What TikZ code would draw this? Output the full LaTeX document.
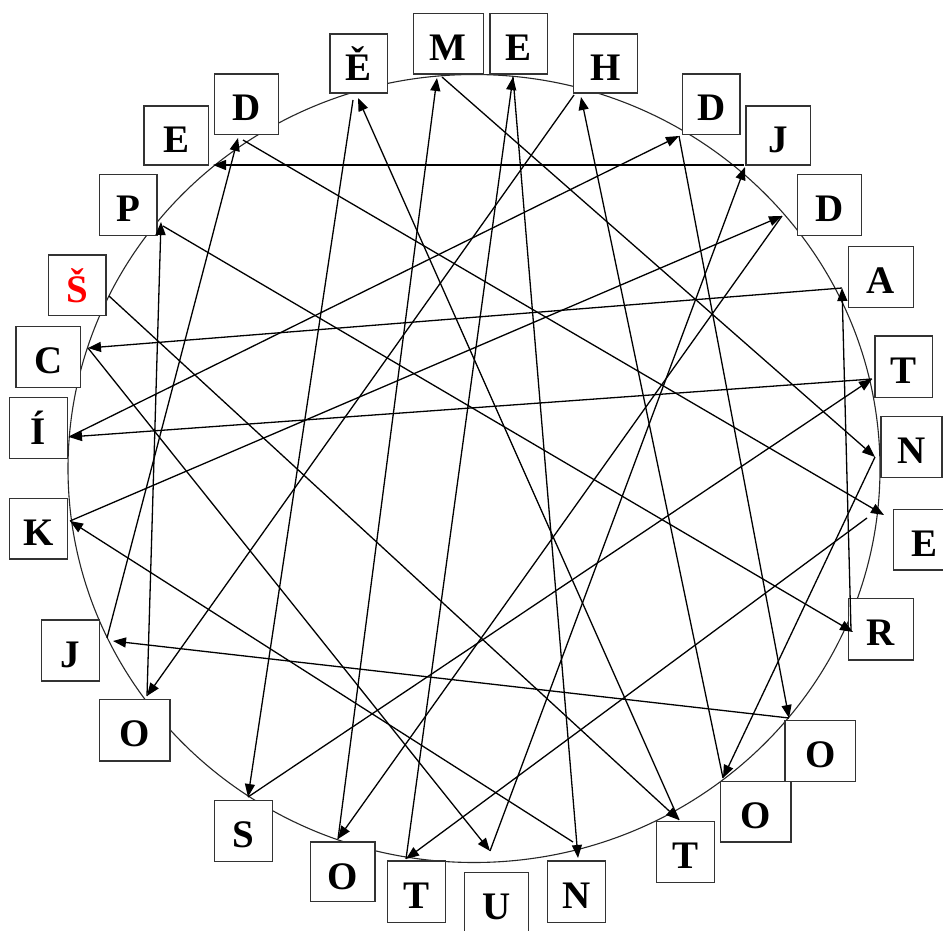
\documentclass[tikz,border=0pt]{standalone}
\usepackage{fontspec}
\setmainfont{Liberation Serif}
\usetikzlibrary{arrows.meta}
\begin{document}
\begin{tikzpicture}[x=1pt,y=-1pt,
  lbox/.style={draw=black!80, line width=1.3pt, fill=white, inner sep=0pt, outer sep=0pt,
    anchor=north west, align=center, text height=47pt,
    font=\fontsize{39}{40}\selectfont\bfseries},
  arr/.style={draw=black, line width=1.3pt, -{Triangle[length=13pt,width=10pt]}},
  ring/.style={draw=black!85, line width=1.1pt}]
\useasboundingbox (0,0) rectangle (943,931);
\fill[white] (0,0) rectangle (943,931);
% outer ellipse
\draw[ring] (474,468.5) ellipse [x radius=406pt, y radius=394pt];
% letter boxes (clockwise from top)
\node[lbox, text width=70pt,   text depth=13.7pt] (bM)   at (413.3,13.3)  {M};
\node[lbox, text width=57.7pt, text depth=13.7pt] (bE2)  at (490,13.3)    {E};
\node[lbox, text width=64.4pt, text depth=12pt]   (bH)   at (573.3,34)    {H};
\node[lbox, text width=57.7pt, text depth=13.7pt] (bD4)  at (682.3,74)    {D};
\node[lbox, text width=64.3pt, text depth=12pt]   (bJ5)  at (746,106)     {J};
\node[lbox, text width=64.4pt, text depth=13.6pt] (bD6)  at (797.3,174.7) {D};
\node[lbox, text width=65pt,   text depth=13.6pt] (bA)   at (848.3,246.7) {A};
\node[lbox, text width=57.3pt, text depth=14.3pt] (bT8)  at (875,336)     {T};
\node[lbox, text width=61pt,   text depth=13.6pt] (bN9)  at (881,416.7)   {N};
\node[lbox, text width=61.7pt, text depth=13.7pt] (bE10) at (893.3,509.3) {E};
\node[lbox, text width=65pt,   text depth=14.7pt] (bR)   at (848.3,598.3) {R};
\node[lbox, text width=70.7pt, text depth=14.4pt] (bO12) at (785,720.3)   {O};
\node[lbox, text width=70.3pt, text depth=13.3pt] (bO13) at (720.7,781.7) {O};
\node[lbox, text width=57.6pt, text depth=14pt]   (bT14) at (656.7,821.7) {T};
\node[lbox, text width=58pt,   text depth=14.7pt] (bN15) at (547.7,861)   {N};
\node[lbox, text width=63.6pt, text depth=14.3pt] (bU)   at (464.7,872.7) {U};
\node[lbox, text width=58.4pt, text depth=14.7pt] (bT17) at (387.3,861)   {T};
\node[lbox, text width=64.3pt, text depth=12.7pt] (bO18) at (310.7,842)   {O};
\node[lbox, text width=58.4pt, text depth=14.4pt] (bS)   at (214.3,800.3) {S};
\node[lbox, text width=70.7pt, text depth=14.3pt] (bO20) at (99.3,699.7)  {O};
\node[lbox, text width=57.6pt, text depth=14pt]   (bJ21) at (41.7,620)    {J};
\node[lbox, text width=58.4pt, text depth=13.7pt] (bK)   at (9.3,498.3)   {K};
\node[lbox, text width=58.4pt, text depth=14pt]   (bI)   at (9.3,397.3)   {Í};
\node[lbox, text width=64.3pt, text depth=14pt]   (bC)   at (16,326.7)    {C};
\node[lbox, text width=57.7pt, text depth=13.3pt, text=red] (bSh) at (48.3,255) {Š};
\node[lbox, text width=57.7pt, text depth=13.6pt] (bP)   at (99.3,174.7)  {P};
\node[lbox, text width=64.3pt, text depth=12pt]   (bE27) at (144,106)     {E};
\node[lbox, text width=64.4pt, text depth=13.7pt] (bD28) at (214.3,74)    {D};
\node[lbox, text width=57.7pt, text depth=12pt]   (bEc)  at (330,34)      {Ě};
% anchor points on the ring
\coordinate (aM) at (437,78);    \coordinate (aMo) at (442,77);
\coordinate (aE2) at (513,77);
\coordinate (aH) at (581,97);    \coordinate (aHo) at (574,95);
\coordinate (aD4) at (679,136);
\coordinate (aJ5) at (745,167);  \coordinate (aJ5o) at (744,165);
\coordinate (aD6) at (782,216);
\coordinate (aA) at (842,288);
\coordinate (aT8) at (872,379);
\coordinate (aN9) at (875,457);
\coordinate (aE10) at (884,515); \coordinate (aE10o) at (867,518);
\coordinate (aR) at (853,632);   \coordinate (aRo) at (851,630);
\coordinate (aO12) at (789,718);
\coordinate (aO13) at (723,778);
\coordinate (aT14) at (679,820);
\coordinate (aN15) at (578,858); \coordinate (aN15o) at (573,842);
\coordinate (aU) at (490,851);
\coordinate (aT17) at (406,859);
\coordinate (aO18) at (338,839);
\coordinate (aS) at (248,797);
\coordinate (aO20) at (147,696);
\coordinate (aJ21) at (113,641); \coordinate (aJ21o) at (107,638);
\coordinate (aK) at (70,521);
\coordinate (aI) at (69,437);
\coordinate (aC) at (88,348);
\coordinate (aSh) at (109,296);
\coordinate (aP) at (161,222);   \coordinate (aPo) at (163,226);
\coordinate (aE27) at (213,165);
\coordinate (aD28) at (238,138); \coordinate (aD28o) at (243,140);
\coordinate (aEc) at (358,98);   \coordinate (aEco) at (353,100);
% the chain of arrows
\draw[arr] (aSh) -- (aT14);
\draw[arr] (aT14) -- (aEc);
\draw[arr] (aEco) -- (aS);
\draw[arr] (aS) -- (aT8);
\draw[arr] (aT8) -- (aI);
\draw[arr] (aI) -- (aD4);
\draw[arr] (aD4) -- (aO12);
\draw[arr] (aO12) -- (aJ21);
\draw[arr] (aJ21o) -- (aD28);
\draw[arr] (aD28o) -- (aE10);
\draw[arr] (aE10o) -- (aT17);
\draw[arr] (aT17) -- (aE2);
\draw[arr] (aE2) -- (aN15);
\draw[arr] (aN15o) -- (aK);
\draw[arr] (aK) -- (aD6);
\draw[arr] (aD6) -- (aO18);
\draw[arr] (aO18) -- (aM);
\draw[arr] (aMo) -- (aN9);
\draw[arr] (aN9) -- (aO13);
\draw[arr] (aO13) -- (aH);
\draw[arr] (aHo) -- (aO20);
\draw[arr] (aO20) -- (aP);
\draw[arr] (aPo) -- (aR);
\draw[arr] (aRo) -- (aA);
\draw[arr] (aA) -- (aC);
\draw[arr] (aC) -- (aU);
\draw[arr] (aU) -- (aJ5);
\draw[arr] (aJ5o) -- (aE27);
\end{tikzpicture}
\end{document}
